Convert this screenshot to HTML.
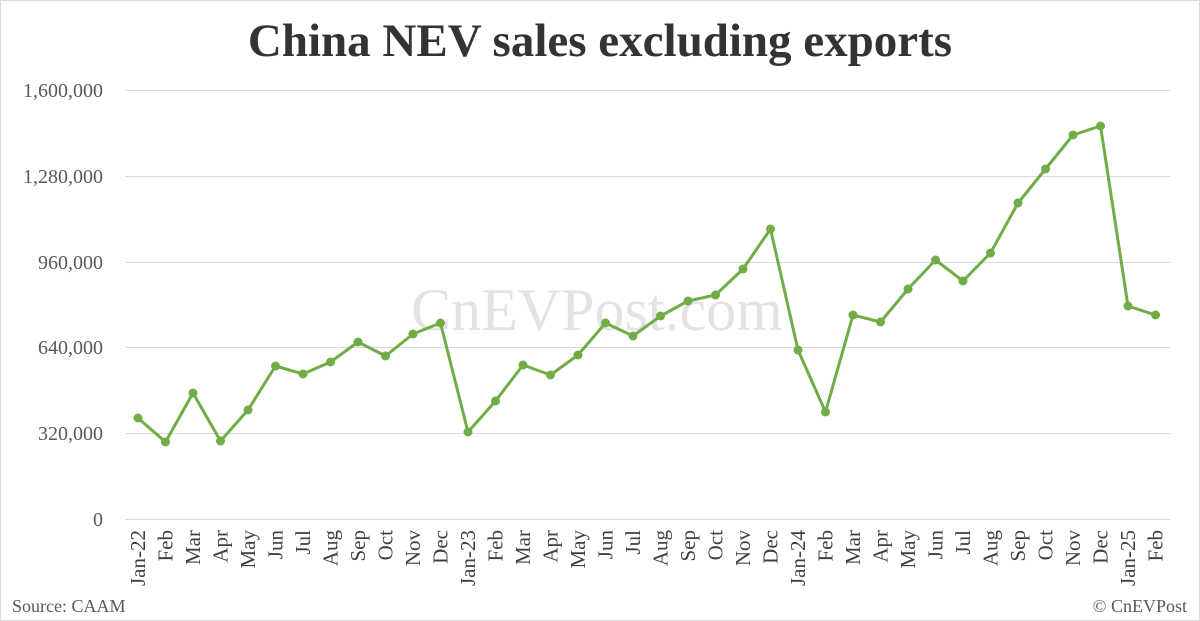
<!DOCTYPE html>
<html><head><meta charset="utf-8"><style>
body{margin:0;background:#fff;}
svg{display:block;}
</style></head><body>
<svg width="1200" height="621" xmlns="http://www.w3.org/2000/svg" font-family="Liberation Serif, serif">
<rect x="0.5" y="0.5" width="1199" height="620" fill="#fff" stroke="#d9d9d9"/>
<text x="600" y="56" text-anchor="middle" font-size="47" font-weight="bold" fill="#333">China NEV sales excluding exports</text>
<g stroke="#d9d9d9" stroke-width="1">
<line x1="125" y1="90.5" x2="1170" y2="90.5"/>
<line x1="125" y1="176.5" x2="1170" y2="176.5"/>
<line x1="125" y1="262.5" x2="1170" y2="262.5"/>
<line x1="125" y1="347.5" x2="1170" y2="347.5"/>
<line x1="125" y1="433.5" x2="1170" y2="433.5"/>
<line x1="125" y1="519.5" x2="1170" y2="519.5"/>
</g>
<g font-size="20" fill="#595959" text-anchor="end">
<text x="103" y="97">1,600,000</text>
<text x="103" y="183">1,280,000</text>
<text x="103" y="269">960,000</text>
<text x="103" y="354">640,000</text>
<text x="103" y="440">320,000</text>
<text x="103" y="526">0</text>
</g>
<text x="597" y="330" text-anchor="middle" font-size="60" fill="#e3e3e3">CnEVPost.com</text>
<g font-size="21" fill="#404040" text-anchor="end">
<text transform="translate(145,530) rotate(-90)">Jan-22</text>
<text transform="translate(172.5,530) rotate(-90)">Feb</text>
<text transform="translate(200,530) rotate(-90)">Mar</text>
<text transform="translate(227.5,530) rotate(-90)">Apr</text>
<text transform="translate(255,530) rotate(-90)">May</text>
<text transform="translate(282.5,530) rotate(-90)">Jun</text>
<text transform="translate(310,530) rotate(-90)">Jul</text>
<text transform="translate(337.5,530) rotate(-90)">Aug</text>
<text transform="translate(365,530) rotate(-90)">Sep</text>
<text transform="translate(392.5,530) rotate(-90)">Oct</text>
<text transform="translate(420,530) rotate(-90)">Nov</text>
<text transform="translate(447.5,530) rotate(-90)">Dec</text>
<text transform="translate(475,530) rotate(-90)">Jan-23</text>
<text transform="translate(502.5,530) rotate(-90)">Feb</text>
<text transform="translate(530,530) rotate(-90)">Mar</text>
<text transform="translate(557.5,530) rotate(-90)">Apr</text>
<text transform="translate(585,530) rotate(-90)">May</text>
<text transform="translate(612.5,530) rotate(-90)">Jun</text>
<text transform="translate(640,530) rotate(-90)">Jul</text>
<text transform="translate(667.5,530) rotate(-90)">Aug</text>
<text transform="translate(695,530) rotate(-90)">Sep</text>
<text transform="translate(722.5,530) rotate(-90)">Oct</text>
<text transform="translate(750,530) rotate(-90)">Nov</text>
<text transform="translate(777.5,530) rotate(-90)">Dec</text>
<text transform="translate(805,530) rotate(-90)">Jan-24</text>
<text transform="translate(832.5,530) rotate(-90)">Feb</text>
<text transform="translate(860,530) rotate(-90)">Mar</text>
<text transform="translate(887.5,530) rotate(-90)">Apr</text>
<text transform="translate(915,530) rotate(-90)">May</text>
<text transform="translate(942.5,530) rotate(-90)">Jun</text>
<text transform="translate(970,530) rotate(-90)">Jul</text>
<text transform="translate(997.5,530) rotate(-90)">Aug</text>
<text transform="translate(1025,530) rotate(-90)">Sep</text>
<text transform="translate(1052.5,530) rotate(-90)">Oct</text>
<text transform="translate(1080,530) rotate(-90)">Nov</text>
<text transform="translate(1107.5,530) rotate(-90)">Dec</text>
<text transform="translate(1135,530) rotate(-90)">Jan-25</text>
<text transform="translate(1162.5,530) rotate(-90)">Feb</text>
</g>
<polyline fill="none" stroke="#70ad47" stroke-width="3" stroke-linejoin="round" points="138,418 165.5,442 193,393 220.5,441 248,410 275.5,366 303,374 330.5,362 358,342 385.5,356 413,334 440.5,323 468,432 495.5,401 523,365 550.5,375 578,355 605.5,323 633,336 660.5,316 688,301 715.5,295 743,269 770.5,229 798,350 825.5,412 853,315 880.5,322 908,289 935.5,260 963,281 990.5,253 1018,203 1045.5,169 1073,135 1100.5,126 1128,306 1155.5,315"/>
<g fill="#70ad47">
<circle cx="138" cy="418" r="4.5"/><circle cx="165.5" cy="442" r="4.5"/><circle cx="193" cy="393" r="4.5"/><circle cx="220.5" cy="441" r="4.5"/><circle cx="248" cy="410" r="4.5"/><circle cx="275.5" cy="366" r="4.5"/><circle cx="303" cy="374" r="4.5"/><circle cx="330.5" cy="362" r="4.5"/><circle cx="358" cy="342" r="4.5"/><circle cx="385.5" cy="356" r="4.5"/><circle cx="413" cy="334" r="4.5"/><circle cx="440.5" cy="323" r="4.5"/><circle cx="468" cy="432" r="4.5"/><circle cx="495.5" cy="401" r="4.5"/><circle cx="523" cy="365" r="4.5"/><circle cx="550.5" cy="375" r="4.5"/><circle cx="578" cy="355" r="4.5"/><circle cx="605.5" cy="323" r="4.5"/><circle cx="633" cy="336" r="4.5"/><circle cx="660.5" cy="316" r="4.5"/><circle cx="688" cy="301" r="4.5"/><circle cx="715.5" cy="295" r="4.5"/><circle cx="743" cy="269" r="4.5"/><circle cx="770.5" cy="229" r="4.5"/><circle cx="798" cy="350" r="4.5"/><circle cx="825.5" cy="412" r="4.5"/><circle cx="853" cy="315" r="4.5"/><circle cx="880.5" cy="322" r="4.5"/><circle cx="908" cy="289" r="4.5"/><circle cx="935.5" cy="260" r="4.5"/><circle cx="963" cy="281" r="4.5"/><circle cx="990.5" cy="253" r="4.5"/><circle cx="1018" cy="203" r="4.5"/><circle cx="1045.5" cy="169" r="4.5"/><circle cx="1073" cy="135" r="4.5"/><circle cx="1100.5" cy="126" r="4.5"/><circle cx="1128" cy="306" r="4.5"/><circle cx="1155.5" cy="315" r="4.5"/>
</g>
<text x="12" y="612" font-size="18" fill="#595959">Source: CAAM</text>
<text x="1187" y="612" font-size="18" fill="#595959" text-anchor="end">© CnEVPost</text>
</svg>
</body></html>
